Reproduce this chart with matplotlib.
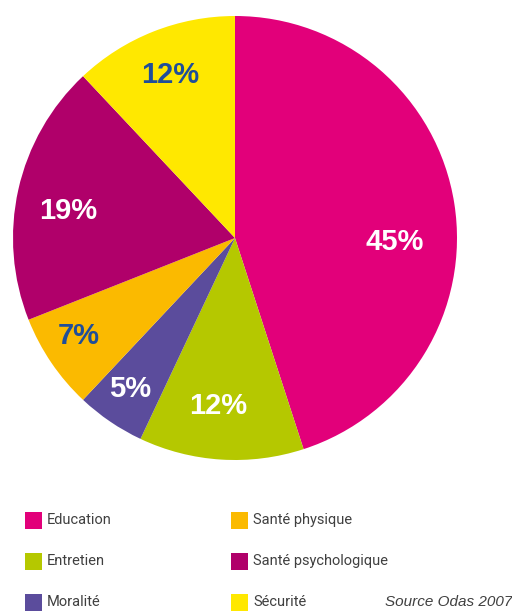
import matplotlib
matplotlib.use("Agg")
import matplotlib.pyplot as plt
from matplotlib.patches import Rectangle
import numpy as np

categories = ["Education", "Entretien", "Moralité", "Santé physique", "Santé psychologique", "Sécurité"]
values = [45, 12, 5, 7, 19, 12]
colors = ["#E2007A", "#B5C800", "#5B4C9C", "#FBBA00", "#B0006A", "#FFE800"]
label_colors = ["white", "white", "white", "#1F4E9A", "white", "#1F4E9A"]
legend_order = ["Education", "Entretien", "Moralité", "Santé physique", "Santé psychologique", "Sécurité"]
source_text = "Source Odas 2007"

# label placement tweaks (radius fraction, angle shift in degrees)
label_radius = [0.72, 0.76, 0.83, 0.83, 0.76, 0.79]
label_angle_shift = [-10.5, -2.0, -0.5, -2.0, 3.5, 0.0]

W, H = 512, 612
fig = plt.figure(figsize=(W / 100, H / 100), dpi=100)
fig.patch.set_facecolor("white")

cx, cy, r = 235, 238, 222
ax = fig.add_axes([(cx - r) / W, (H - cy - r) / H, 2 * r / W, 2 * r / H])
wedges, texts, autotexts = ax.pie(
    values, colors=colors, startangle=90, counterclock=False,
    autopct=lambda p: f"{p:.0f}%", pctdistance=0.78,
    wedgeprops=dict(linewidth=0),
    textprops=dict(fontsize=21, fontweight="bold", family=["Liberation Sans", "DejaVu Sans"]),
)
for w, t, c, rad, sh in zip(wedges, autotexts, label_colors, label_radius, label_angle_shift):
    t.set_color(c)
    mid = np.deg2rad((w.theta1 + w.theta2) / 2 + sh)
    t.set_position((rad * np.cos(mid), rad * np.sin(mid)))
ax.set_xlim(-1, 1)
ax.set_ylim(-1, 1)
ax.set_aspect("equal")
ax.axis("off")

# legend (manual layout, two columns of three)
sq = 17
col_x = [25, 231]
row_y = [520, 561, 602]
leg_font = ["Roboto", "DejaVu Sans"]
for i, name in enumerate(legend_order):
    col, row = divmod(i, 3)
    x = col_x[col]
    y = row_y[row]
    c = colors[categories.index(name)]
    fig.patches.append(Rectangle((x / W, (H - y - sq / 2) / H), sq / W, sq / H,
                                 transform=fig.transFigure, facecolor=c, edgecolor="none"))
    fig.text((x + sq + 5) / W, (H - y) / H, name, fontsize=10.5, color="#404040",
             va="center", ha="left", family=leg_font)

fig.text(385 / W, (H - 602) / H, source_text, fontsize=11, style="italic", color="#404040",
         va="center", ha="left", family=["Liberation Sans", "DejaVu Sans"])

fig.savefig("out.png", dpi=100, facecolor="white")
